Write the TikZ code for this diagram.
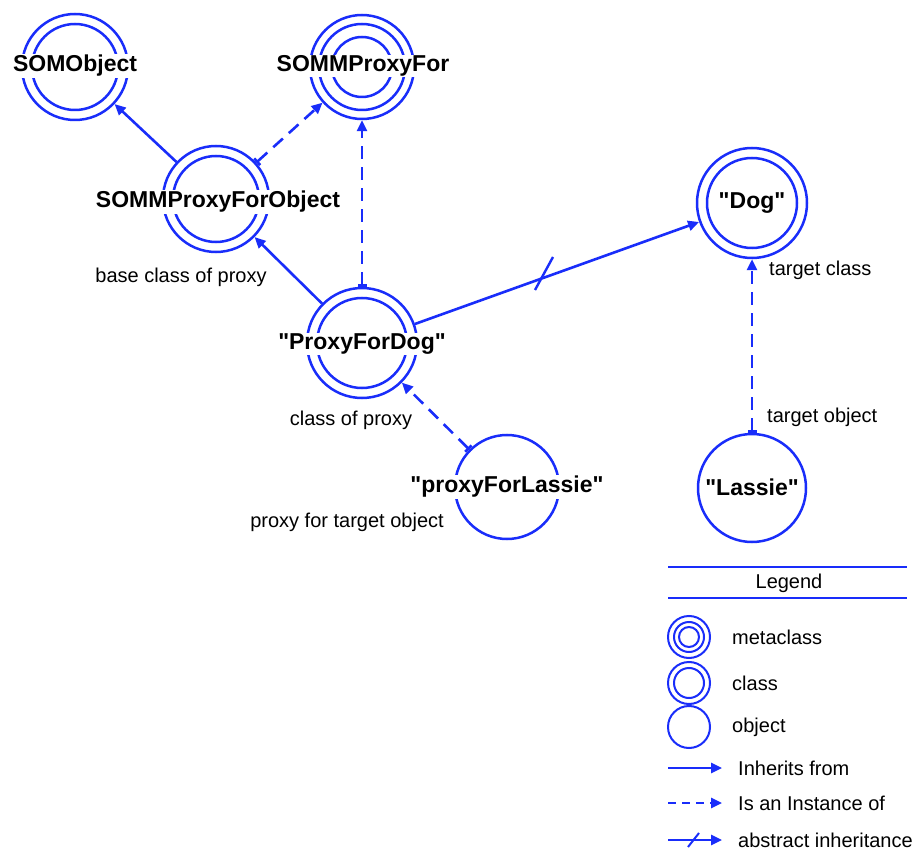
\documentclass[tikz,border=0pt]{standalone}
\usepackage{fontspec}
\newfontfamily\hv{Liberation Sans}
\usetikzlibrary{arrows.meta}
\definecolor{sb}{RGB}{25,45,250}
\begin{document}
\begin{tikzpicture}[x=1pt,y=-1pt,
  ring/.style={circle, draw=sb, line width=2.5pt, inner sep=0pt, minimum size=#1},
  ringin/.style={draw=sb, line width=2.5pt},
  nm/.style={font=\hv\fontsize{23}{27}\selectfont\bfseries, fill=white, inner sep=1pt},
  lab/.style={font=\hv\fontsize{20}{24}\selectfont, inner sep=0pt},
  inh/.style={draw=sb, line width=2.6pt, -{Triangle[length=11pt,width=10pt]}},
  inst/.style={draw=sb, line width=2.6pt, dash pattern=on 13pt off 8pt, {Bar[width=9pt]}-{Triangle[length=11pt,width=10pt]}},
  lring/.style={circle, draw=sb, line width=2pt, inner sep=0pt, minimum size=#1},
]
\fill[white] (0,0) rectangle (916,850);
\useasboundingbox (0,0) rectangle (916,850);

% circles
\node[ring=106pt] (somobject) at (75,67) {};
\draw[ringin] (somobject.center) circle (43pt);
\node[ring=104pt] (proxyfor) at (362,67) {};
\draw[ringin] (proxyfor.center) circle (43pt);
\draw[ringin] (proxyfor.center) circle (30pt);
\node[ring=106pt] (pfo) at (216,199) {};
\draw[ringin] (pfo.center) circle (43pt);
\node[ring=110pt] (pfd) at (362,343) {};
\draw[ringin] (pfd.center) circle (45pt);
\node[ring=110pt] (dog) at (752,203) {};
\draw[ringin] (dog.center) circle (45pt);
\node[ring=104pt] (pfl) at (507,487) {};
\node[ring=108pt] (lassie) at (752,488) {};

% connectors
\draw[inh] (pfo) -- (somobject);
\draw[inst] (pfo) -- (proxyfor);
\draw[inst] (pfd) -- (proxyfor);
\draw[inh] (pfd) -- (pfo);
\draw[inh] (pfd) -- (dog);
\draw[sb, line width=2.4pt] (535,290) -- (553,257);
\draw[inst] (pfl) -- (pfd);
\draw[inst] (lassie) -- (dog);

% names
\node[nm] (tsomobject) at (75,66) {SOMObject};
\node[nm] (tproxyfor) at (363,66) {SOMMProxyFor};
\node[nm] (tpfo) at (218,202) {SOMMProxyForObject};
\node[nm] (tpfd) at (362,344) {"ProxyForDog"};
\node[nm] (tdog) at (752,203) {"Dog"};
\node[nm] (tpfl) at (507,487) {"proxyForLassie"};
\node[nm] (tlassie) at (752,487) {"Lassie"};

% labels
\node[lab] (l1) at (181,277) {base class of proxy};
\node[lab] (l2) at (351,420) {class of proxy};
\node[lab] (l3) at (347,522) {proxy for target object};
\node[lab, anchor=west] (l4) at (769,270) {target class};
\node[lab, anchor=west] (l5) at (767,417) {target object};

% legend
\draw[sb, line width=2.5pt] (668,567) -- (907,567);
\draw[sb, line width=2.5pt] (668,598) -- (907,598);
\node[lab] (lg) at (789,583) {Legend};
\node[lring=42pt] (lm) at (689,637) {};
\draw[sb, line width=2pt] (lm.center) circle (15pt);
\draw[sb, line width=2pt] (lm.center) circle (10pt);
\node[lab, anchor=west] (lmt) at (732,637) {metaclass};
\node[lring=42pt] (lc) at (689,683) {};
\draw[sb, line width=2pt] (lc.center) circle (15pt);
\node[lab, anchor=west] (lct) at (732,683) {class};
\node[lring=42pt] (lo) at (689,727) {};
\node[lab, anchor=west] (lot) at (732,727) {object};
\coordinate (a1) at (668,768); \coordinate (b1) at (722,768);
\draw[inh] (a1) -- (b1);
\node[lab, anchor=west] (t1) at (738,768) {Inherits from};
\coordinate (a2) at (668,803); \coordinate (b2) at (722,803);
\draw[draw=sb, line width=2.6pt, dash pattern=on 8pt off 6pt, -{Triangle[length=11pt,width=10pt]}] (a2) -- (b2);
\node[lab, anchor=west] (t2) at (738,803) {Is an Instance of};
\coordinate (a3) at (668,840); \coordinate (b3) at (722,840);
\draw[inh] (a3) -- (b3);
\draw[sb, line width=2pt] (688,847) -- (699,833);
\node[lab, anchor=west] (t3) at (738,840) {abstract inheritance};
\end{tikzpicture}
\end{document}
